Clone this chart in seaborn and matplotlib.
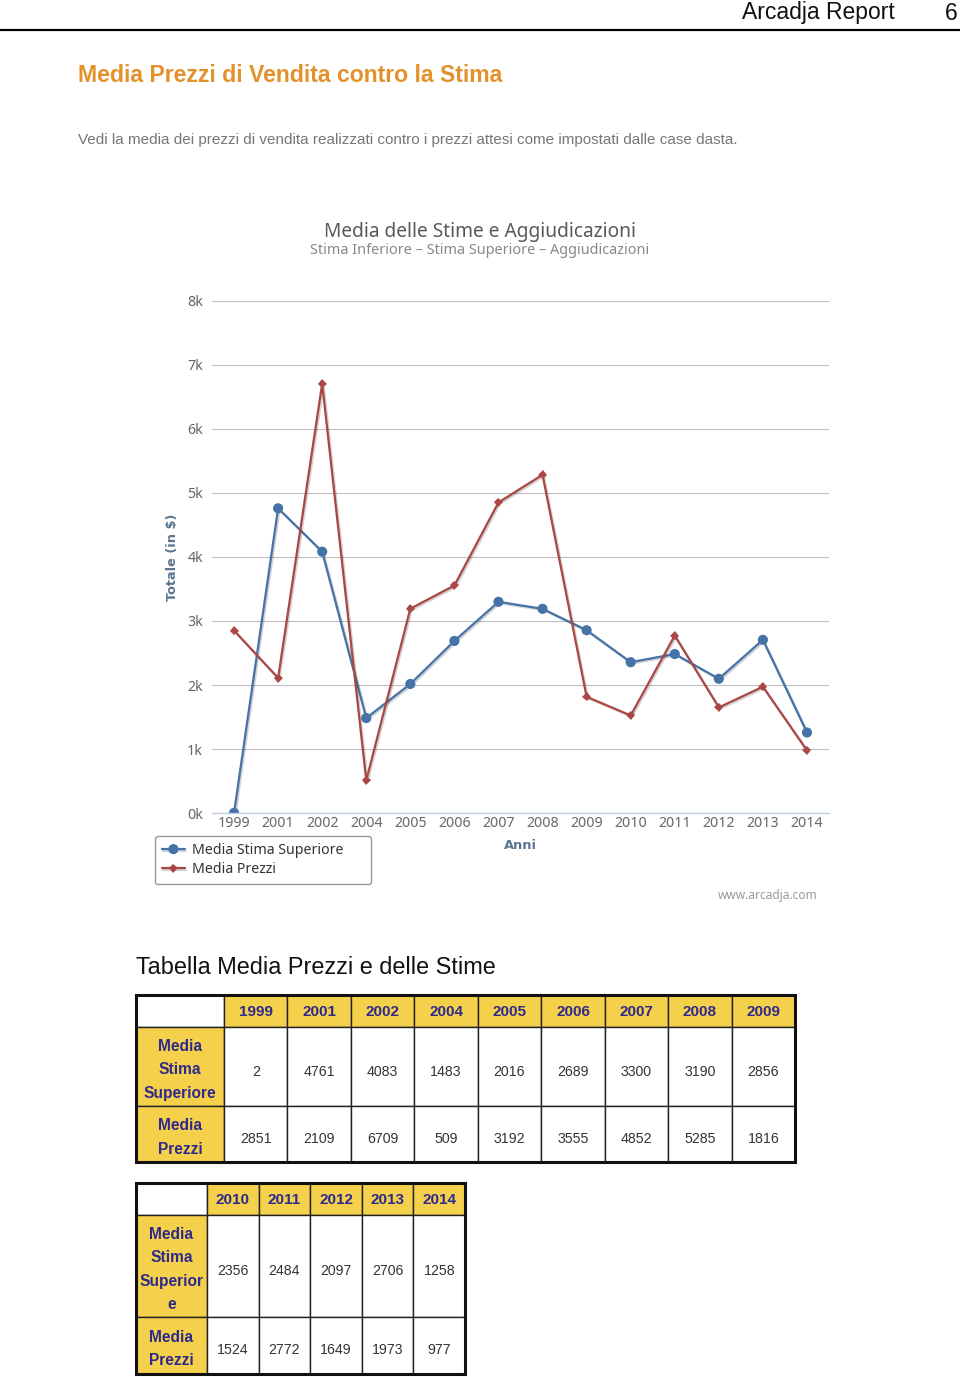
import numpy as np
import pandas as pd
import matplotlib
matplotlib.use("Agg")
import matplotlib.pyplot as plt
import matplotlib.patheffects as pe
from matplotlib.patches import Rectangle
from matplotlib.lines import Line2D
import seaborn as sns

# ---------------- data ----------------
years = ["1999", "2001", "2002", "2004", "2005", "2006", "2007",
         "2008", "2009", "2010", "2011", "2012", "2013", "2014"]
stima_superiore = [2, 4761, 4083, 1483, 2016, 2689, 3300, 3190, 2856,
                   2356, 2484, 2097, 2706, 1258]
media_prezzi = [2851, 2109, 6709, 509, 3192, 3555, 4852, 5285, 1816,
                1524, 2772, 1649, 1973, 977]
series_names = ["Media Stima Superiore", "Media Prezzi"]
series_colors = ["#4572A7", "#AA4643"]
y_ticks = [0, 1000, 2000, 3000, 4000, 5000, 6000, 7000, 8000]
y_tick_labels = ["0k", "1k", "2k", "3k", "4k", "5k", "6k", "7k", "8k"]
table1_years = years[:9]
table2_years = years[9:]
table1_labels = ["Media\nStima\nSuperiore", "Media\nPrezzi"]
table2_labels = ["Media\nStima\nSuperior\ne", "Media\nPrezzi"]

# ---------------- page setup ----------------
W, H = 960, 1377
def fx(x):
    return x / W
def fy(y):
    return 1 - y / H

sns.set_style("white")
plt.rcParams["font.family"] = ["Liberation Sans", "DejaVu Sans"]

fig = plt.figure(figsize=(W / 100, H / 100), dpi=100)
fig.patch.set_facecolor("white")

# header
fig.text(fx(895), fy(13), "Arcadja Report", ha="right", va="center",
         fontsize=16.5, color="#111111")
fig.text(fx(958), fy(13), "6", ha="right", va="center",
         fontsize=16.5, color="#111111")
fig.add_artist(Line2D([0, 1], [fy(29.5), fy(29.5)], color="black", lw=1.6,
                      transform=fig.transFigure))

fig.text(fx(78), fy(76), "Media Prezzi di Vendita contro la Stima",
         ha="left", va="center", fontsize=16.6, fontweight="bold",
         color="#E3922B")
fig.text(fx(78), fy(140),
         "Vedi la media dei prezzi di vendita realizzati contro i prezzi attesi come impostati dalle case dasta.",
         ha="left", va="center", fontsize=11.0, color="#777777")

# ---------------- chart ----------------
chart_font = ["Noto Sans", "DejaVu Sans"]
bold_font = ["DejaVu Sans"]
fig.text(fx(480), fy(232), "Media delle Stime e Aggiudicazioni",
         ha="center", va="center", fontsize=13.8, color="#5a5a5a",
         family=chart_font)
fig.text(fx(480), fy(251), "Stima Inferiore – Stima Superiore – Aggiudicazioni",
         ha="center", va="center", fontsize=10.4, color="#888888",
         family=chart_font)

ax = fig.add_axes([fx(212), fy(813), fx(829) - fx(212), (813 - 301) / H])

pos = list(range(len(years)))
df = pd.DataFrame({
    "pos": pos * 2,
    "value": stima_superiore + media_prezzi,
    "serie": [series_names[0]] * len(years) + [series_names[1]] * len(years),
})
sns.lineplot(data=df, x="pos", y="value", hue="serie", style="serie",
             hue_order=series_names, style_order=series_names,
             palette=dict(zip(series_names, series_colors)),
             markers={series_names[0]: "o", series_names[1]: "D"},
             dashes=False, linewidth=1.6, markersize=7.3,
             markeredgewidth=0, ax=ax)

for line in ax.lines:
    line.set_path_effects([pe.SimpleLineShadow(offset=(1, -1), alpha=0.18),
                           pe.Normal()])
    if line.get_marker() == "D":
        line.set_markersize(4.6)

ax.set_xlim(-0.5, len(years) - 0.5)
ax.set_ylim(0, 8000)
ax.set_xticks(pos)
ax.set_xticklabels(years, family=chart_font, fontsize=10.2, color="#666666")
ax.set_xticks(np.arange(-0.5, len(years), 1.0), minor=True)
ax.set_yticks(y_ticks)
ax.set_yticklabels(y_tick_labels, family=chart_font, fontsize=10.2,
                   color="#666666")
ax.tick_params(axis="x", which="major", length=0, pad=2.5)
ax.tick_params(axis="x", which="minor", length=4, width=0.8,
               color="#C0D0E0", direction="out")
ax.tick_params(axis="y", length=0, pad=6.5)
ax.yaxis.grid(True, color="#C0C0C0", lw=0.8)
ax.xaxis.grid(False)
ax.set_axisbelow(True)
for s in ["top", "right", "left"]:
    ax.spines[s].set_visible(False)
ax.spines["bottom"].set_color("#C0D0E0")
ax.spines["bottom"].set_linewidth(1)
ax.set_facecolor("white")

ax.set_xlabel("Anni", family=bold_font, fontsize=9.4, fontweight="bold",
              color="#5a7592")
ax.xaxis.set_label_coords(0.5, (813 - 839) / 512)
ax.set_ylabel("Totale (in $)", family=bold_font, fontsize=9.3,
              fontweight="bold", color="#5a7592")
ax.yaxis.set_label_coords((179 - 212) / 617, 0.5)

handles, labels = ax.get_legend_handles_labels()
if ax.get_legend() is not None:
    ax.get_legend().remove()
leg = fig.legend(handles, labels, loc="upper left",
                 bbox_to_anchor=(fx(155), fy(884), fx(216), 48 / H),
                 mode="expand", frameon=True, fancybox=True,
                 edgecolor="#999999", facecolor="white", framealpha=1,
                 prop={"family": chart_font, "size": 10.2},
                 handlelength=1.6, handletextpad=0.5, borderpad=0.5,
                 labelspacing=0.3, borderaxespad=0)
for t in leg.get_texts():
    t.set_color("#333333")

fig.text(fx(818), fy(895), "www.arcadja.com", ha="right", va="center",
         fontsize=8.6, color="#999999", family=chart_font)

# ---------------- tables ----------------
fig.text(fx(136), fy(968), "Tabella Media Prezzi e delle Stime",
         ha="left", va="center", fontsize=16.9, color="#111111")

YELLOW = "#F5D04A"
NAVY = "#2E2A8C"

def draw_table(x0, y0, first_w, col_w, row_h, hdr, row_labels, rows):
    ncol = len(hdr)
    x1 = x0 + first_w + col_w * ncol
    y1 = y0 + sum(row_h)
    tax = fig.add_axes([fx(x0), fy(y1), fx(x1) - fx(x0), (y1 - y0) / H])
    tax.set_xlim(x0, x1)
    tax.set_ylim(y1, y0)
    tax.axis("off")
    xs = [x0, x0 + first_w] + [x0 + first_w + col_w * (i + 1) for i in range(ncol)]
    ys = [y0]
    for h in row_h:
        ys.append(ys[-1] + h)
    for r in range(len(row_h)):
        for c in range(ncol + 1):
            if r == 0 and c == 0:
                fc = "white"
            elif r == 0 or c == 0:
                fc = YELLOW
            else:
                fc = "white"
            tax.add_patch(Rectangle((xs[c], ys[r]), xs[c + 1] - xs[c],
                                    ys[r + 1] - ys[r], facecolor=fc,
                                    edgecolor="#222222", lw=1.0))
            cx = (xs[c] + xs[c + 1]) / 2
            cy = (ys[r] + ys[r + 1]) / 2
            if r == 0 and c > 0:
                tax.text(cx, cy + 1, hdr[c - 1], ha="center", va="center",
                         fontsize=11, fontweight="bold", color=NAVY)
            elif r > 0 and c == 0:
                tax.text(cx, cy + 3.5, row_labels[r - 1], ha="center",
                         va="center", fontsize=11.2, fontweight="bold",
                         color=NAVY, linespacing=1.67)
            elif r > 0 and c > 0:
                tax.text(cx, cy + 5, str(rows[r - 1][c - 1]), ha="center",
                         va="center", fontsize=10.2, color="#333333")
    tax.add_patch(Rectangle((x0, y0), x1 - x0, y1 - y0, facecolor="none",
                            edgecolor="#111111", lw=2.2, clip_on=False))

draw_table(136, 995, 88, (795 - 224) / 9, [32, 79, 56],
           table1_years, table1_labels,
           [stima_superiore[:9], media_prezzi[:9]])
draw_table(136, 1183, 71, (465 - 207) / 5, [32, 102, 57],
           table2_years, table2_labels,
           [stima_superiore[9:], media_prezzi[9:]])

fig.savefig("out.png", dpi=100, facecolor="white")
